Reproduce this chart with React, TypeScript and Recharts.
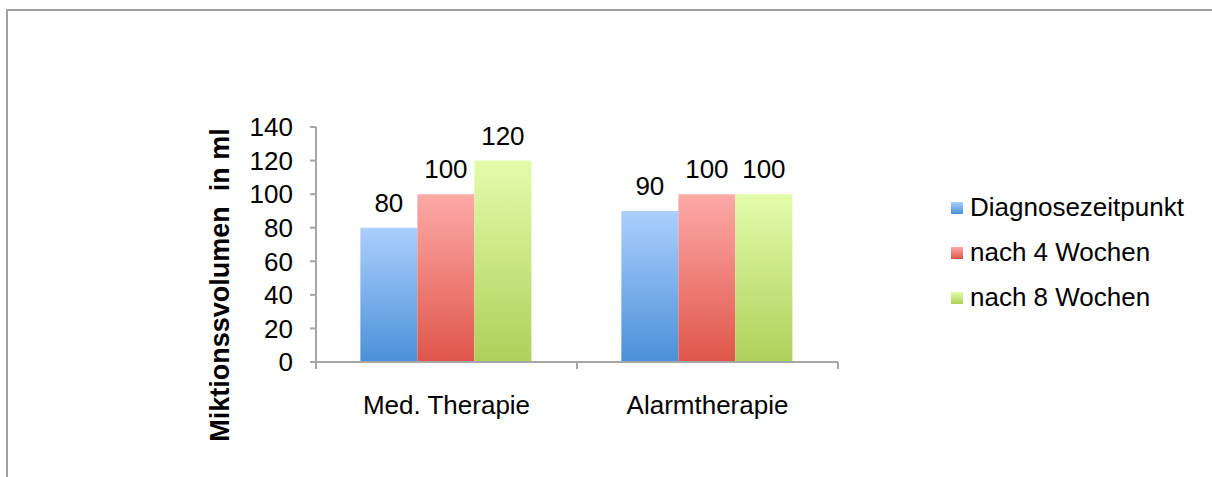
import { Bar, BarChart, LabelList, XAxis, YAxis } from "recharts";

const categories = ["Med. Therapie", "Alarmtherapie"];
const diagnose = [80, 90];
const nach4 = [100, 100];
const nach8 = [120, 100];
const yTicks = [0, 20, 40, 60, 80, 100, 120, 140];

const seriesNames = ["Diagnosezeitpunkt", "nach 4 Wochen", "nach 8 Wochen"];
const seriesKeys = ["diagnose", "nach4", "nach8"];
const gradients = [
  { id: "gBlue", top: "#abcffd", bottom: "#4a90d8" },
  { id: "gRed", top: "#fdaaa7", bottom: "#df5649" },
  { id: "gGreen", top: "#e3fcab", bottom: "#aed059" },
];

const data = categories.map((name, i) => ({
  name,
  diagnose: diagnose[i],
  nach4: nach4[i],
  nach8: nach8[i],
}));

const FONT = "'Liberation Sans', Arial, sans-serif";
const FS = 26;
const AXIS = "#a6a6a6";

function CategoryTick(props: any) {
  const { x, y, payload, index, visibleTicksCount } = props;
  const half = payload?.offset ?? 130.5;
  const last = index === (visibleTicksCount ?? categories.length) - 1;
  return (
    <g>
      <line x1={x - half} x2={x - half} y1={y - 8} y2={y - 1} stroke={AXIS} strokeWidth={2} />
      {last && <line x1={x + half} x2={x + half} y1={y - 8} y2={y - 1} stroke={AXIS} strokeWidth={2} />}
      <text x={x} y={y + 44} textAnchor="middle" fontSize={FS} fontFamily={FONT} fill="#000">
        {payload.value}
      </text>
    </g>
  );
}

function LegendBox() {
  return (
    <div style={{ position: "absolute", left: 951, top: 185, fontFamily: FONT, fontSize: FS, color: "#000" }}>
      {seriesNames.map((n, i) => (
        <div key={n} style={{ display: "flex", alignItems: "center", height: 45 }}>
          <span
            style={{
              display: "inline-block",
              width: 12,
              height: 12,
              marginRight: 7,
              background: `linear-gradient(${gradients[i].top}, ${gradients[i].bottom})`,
            }}
          />
          <span>{n}</span>
        </div>
      ))}
    </div>
  );
}

export default function App() {
  return (
    <div style={{ position: "absolute", left: 0, top: 0, width: 1212, height: 477, overflow: "hidden", background: "#fff" }}>
      <div
        style={{
          position: "absolute",
          left: 6,
          top: 9,
          width: 1400,
          height: 700,
          borderLeft: "2px solid #a0a0a0",
          borderTop: "2px solid #a0a0a0",
        }}
      />
      <BarChart
        width={1212}
        height={477}
        data={data}
        margin={{ top: 127, right: 374, left: 256, bottom: 55 }}
        barCategoryGap="17%"
        barGap={0}
        style={{ position: "absolute", left: 0, top: 0 }}
      >
        <defs>
          {gradients.map((g) => (
            <linearGradient key={g.id} id={g.id} x1="0" y1="0" x2="0" y2="1">
              <stop offset="0%" stopColor={g.top} />
              <stop offset="100%" stopColor={g.bottom} />
            </linearGradient>
          ))}
        </defs>
        <XAxis
          dataKey="name"
          height={60}
          axisLine={{ stroke: AXIS, strokeWidth: 2 }}
          tickLine={false}
          tick={<CategoryTick />}
          interval={0}
        />
        <YAxis
          width={60}
          domain={[0, 140]}
          ticks={yTicks}
          interval={0}
          axisLine={{ stroke: AXIS, strokeWidth: 2 }}
          tickLine={{ stroke: AXIS, strokeWidth: 2 }}
          tickSize={6}
          tickMargin={17}
          tick={{ fill: "#000", fontSize: FS, fontFamily: FONT }}
          label={{
            content: () => (
              <text
                x={229}
                y={285}
                transform="rotate(-90 229 285)"
                textAnchor="middle"
                fontSize={27}
                fontWeight="bold"
                fontFamily={FONT}
                fill="#000"
                style={{ whiteSpace: "pre" }}
              >
                Miktionssvolumen  in ml
              </text>
            ),
          }}
        />
        {seriesKeys.map((k, i) => (
          <Bar key={k} dataKey={k} name={seriesNames[i]} fill={`url(#${gradients[i].id})`} isAnimationActive={false}>
            <LabelList dataKey={k} position="top" offset={16} fill="#000" fontSize={FS} fontFamily={FONT} />
          </Bar>
        ))}
      </BarChart>
      <LegendBox />
    </div>
  );
}
